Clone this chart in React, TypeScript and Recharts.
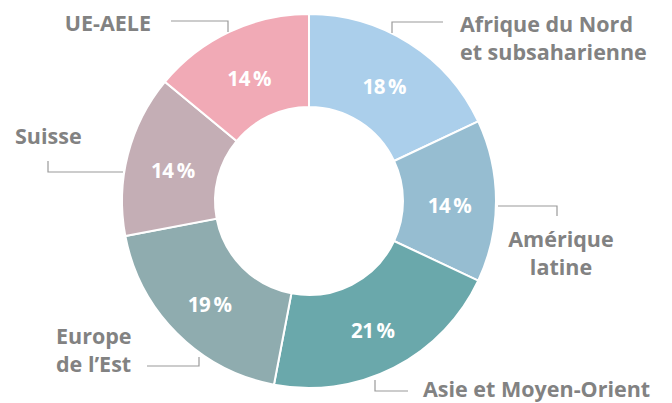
import React from "react";
import { PieChart, Pie, Cell } from "recharts";

const regions = [
  "Afrique du Nord\net subsaharienne",
  "Amérique\nlatine",
  "Asie et Moyen-Orient",
  "Europe\nde l’Est",
  "Suisse",
  "UE-AELE",
];
const shares = [18, 14, 21, 19, 14, 14];
const COLORS = ["#abcfeb", "#96bdd1", "#6aa8ab", "#8facaf", "#c4aeb5", "#f1aab6"];

const data = regions.map((name, i) => ({ name, value: shares[i] }));

// leader lines and text anchors, relative to the pie centre
const LABEL_LAYOUT: Record<string, { line: number[][]; x: number; y: number; anchor: string }> = {
  "Afrique du Nord\net subsaharienne": { line: [[83, -168], [83, -179], [134, -179]], x: 151, y: -169, anchor: "start" },
  "Amérique\nlatine": { line: [[189, 5], [248, 5], [248, 15]], x: 252, y: 46, anchor: "middle" },
  "Asie et Moyen-Orient": { line: [[66, 179], [66, 190], [99, 190]], x: 114, y: 196, anchor: "start" },
  "Europe\nde l’Est": { line: [[-110, 156], [-110, 165], [-162, 165]], x: -253, y: 143, anchor: "start" },
  "Suisse": { line: [[-261, -40], [-261, -29], [-186, -29]], x: -294, y: -57, anchor: "start" },
  "UE-AELE": { line: [[-138, -180], [-81, -180], [-81, -169]], x: -158, y: -170, anchor: "end" },
};

const FONT = "'Open Sans', Lato, sans-serif";
const RAD = Math.PI / 180;

const renderLabel = (props: any) => {
  const { cx, cy, midAngle, innerRadius, outerRadius, name, value } = props;
  const r = (innerRadius + outerRadius) / 2;
  const px = cx + r * Math.cos(-midAngle * RAD);
  const py = cy + r * Math.sin(-midAngle * RAD);
  const lay = LABEL_LAYOUT[name];
  const lines = String(name).split("\n");
  return (
    <g>
      <text
        x={px}
        y={py + 4}
        fill="#ffffff"
        textAnchor="middle"
        dominantBaseline="central"
        fontFamily={FONT}
        fontWeight={700}
        fontSize={20.5}
        letterSpacing={-0.4}
      >
        {`${value}\u2009%`}
      </text>
      {lay && (
        <>
          <polyline
            points={lay.line.map(([x, y]) => `${cx + x},${cy + y}`).join(" ")}
            fill="none"
            stroke="#9a9a9a"
            strokeWidth={1.2}
          />
          <text
            x={cx + lay.x}
            y={cy + lay.y}
            fill="#828282"
            textAnchor={lay.anchor as any}
            fontFamily={FONT}
            fontWeight={700}
            fontSize={21.5}
          >
            {lines.map((l, i) => (
              <tspan key={i} x={cx + lay.x} dy={i === 0 ? 0 : 28}>
                {l}
              </tspan>
            ))}
          </text>
        </>
      )}
    </g>
  );
};

export default function App() {
  return (
    <div style={{ position: "absolute", left: 0, top: 0, width: 672, height: 403, background: "#fff" }}>
      <PieChart width={672} height={403} margin={{ top: 0, right: 0, bottom: 0, left: 0 }}>
        <Pie
          data={data}
          dataKey="value"
          nameKey="name"
          cx={309}
          cy={201}
          innerRadius={94}
          outerRadius={187}
          startAngle={90}
          endAngle={-270}
          stroke="#ffffff"
          strokeWidth={2}
          label={renderLabel}
          labelLine={false}
          isAnimationActive={false}
        >
          {data.map((entry, index) => (
            <Cell key={`cell-${index}`} fill={COLORS[index % COLORS.length]} />
          ))}
        </Pie>
      </PieChart>
    </div>
  );
}
